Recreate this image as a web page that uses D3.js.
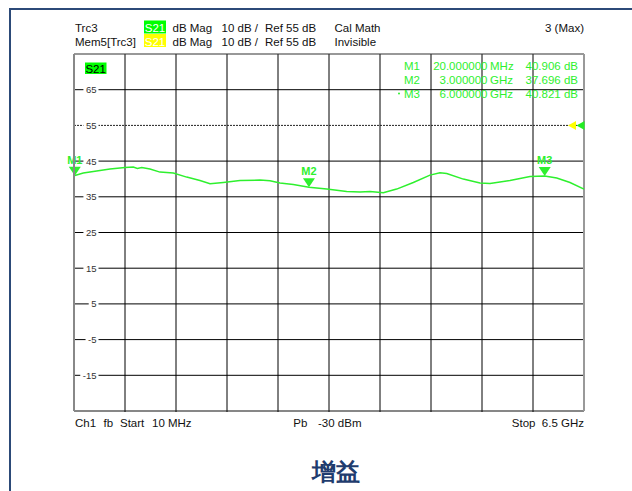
<!DOCTYPE html>
<html>
<head>
<meta charset="utf-8">
<script src="https://cdn.jsdelivr.net/npm/d3@7"></script>
<style>
  html, body { margin: 0; padding: 0; background: #fff; }
  svg { display: block; }
  text { font-family: "Liberation Sans", Arial, sans-serif; }
</style>
</head>
<body>
<svg id="chart" width="632" height="491"></svg>
<script>
// ---- data ----
const freqGHz = [0.01, 0.128, 0.256, 0.468, 0.659, 0.765, 0.816, 0.872, 0.977, 1.104, 1.274, 1.444, 1.613, 1.741, 1.910, 2.122, 2.377, 2.504, 2.631, 2.801, 3.0, 3.226, 3.480, 3.650, 3.777, 3.946, 4.116, 4.328, 4.540, 4.667, 4.753, 4.964, 5.176, 5.304, 5.558, 5.813, 6.0, 6.153, 6.322, 6.5];
const gainDb  = [40.906, 41.64, 42.09, 42.76, 43.21, 43.32, 42.93, 43.21, 42.76, 41.92, 41.64, 40.52, 39.57, 38.64, 39.01, 39.57, 39.68, 39.48, 38.84, 38.45, 37.696, 37.16, 36.48, 36.32, 36.48, 36.12, 37.16, 39.01, 41.08, 41.72, 41.53, 39.96, 38.84, 38.73, 39.57, 40.69, 40.821, 40.24, 39.01, 37.16];

const markerNames = ["M1", "M2", "M3"];
const markerFreqs = [0.02, 3.0, 6.0];
const markerGains = [40.906, 37.696, 40.821];
const markerFreqText = ["20.000000", "3.000000", "6.000000"];
const markerUnits = ["MHz", "GHz", "GHz"];
const markerValText = ["40.906 dB", "37.696 dB", "40.821 dB"];

const yTickValues = [65, 55, 45, 35, 25, 15, 5, -5, -15];
const yDomain = [-25, 75];
const xDomain = [0.01, 6.5];
const refLevel = 55;

const header1 = ["Trc3", "S21", "dB Mag", "10 dB /", "Ref 55 dB", "Cal Math", "3 (Max)"];
const header2 = ["Mem5[Trc3]", "S21", "dB Mag", "10 dB /", "Ref 55 dB", "Invisible"];
const footer = ["Ch1", "fb", "Start", "10 MHz", "Pb", "-30 dBm", "Stop", "6.5 GHz"];
const title = "增益";

// ---- layout ----
const L = 74, R = 584, T = 54, B = 411;
const green = "#2ef02e";
const svg = d3.select("#chart");

const x = d3.scaleLinear().domain(xDomain).range([L, R]);
const y = d3.scaleLinear().domain(yDomain).range([B, T]);

// outer frame
svg.append("rect").attr("x", 10).attr("y", 9).attr("width", 700).attr("height", 600)
  .attr("fill", "none").attr("stroke", "#2c4a78").attr("stroke-width", 2);

// header
const hFont = "11.5px";
svg.append("rect").attr("x", 144).attr("y", 20.5).attr("width", 22).attr("height", 13).attr("fill", "#00ff00");
svg.append("rect").attr("x", 144).attr("y", 34).attr("width", 22).attr("height", 13).attr("fill", "#ffff00");
const h1x = [75, null, 172.5, 221.5, 265, 334.5];
const g1 = svg.append("g").attr("font-size", hFont).attr("fill", "#111");
[[header1, 32], [header2, 45.5]].forEach(([row, by]) => {
  row.forEach((t, i) => {
    if (i === 1) {
      g1.append("text").attr("x", 155).attr("y", by).attr("text-anchor", "middle").attr("fill", "#fff").text(t);
    } else if (i === 6) {
      g1.append("text").attr("x", R).attr("y", by).attr("text-anchor", "end").text(t);
    } else {
      g1.append("text").attr("x", h1x[i]).attr("y", by).text(t);
    }
  });
});

// grid
const grid = svg.append("g");
const yGrid = d3.range(yDomain[0], yDomain[1] + 1, 10);
const xGrid = d3.range(0, 11).map(i => xDomain[0] + i * (xDomain[1] - xDomain[0]) / 10);
grid.selectAll("line.h").data(yGrid.filter(v => v !== refLevel && v !== yDomain[0] && v !== yDomain[1])).join("line")
  .attr("x1", L).attr("x2", R).attr("y1", d => y(d)).attr("y2", d => y(d))
  .attr("stroke", "#000").attr("stroke-width", 1);
grid.selectAll("line.v").data(xGrid.slice(1, -1)).join("line")
  .attr("x1", d => x(d)).attr("x2", d => x(d)).attr("y1", T).attr("y2", B + 1)
  .attr("stroke", "#000").attr("stroke-width", 1);
// reference line (fine dotted)
grid.append("line").attr("x1", L).attr("x2", R).attr("y1", y(refLevel)).attr("y2", y(refLevel))
  .attr("stroke", "#222").attr("stroke-width", 1).attr("stroke-dasharray", "2,1");
// borders
grid.append("line").attr("x1", L).attr("x2", R).attr("y1", T).attr("y2", T).attr("stroke", "#333").attr("stroke-width", 1.2);
grid.append("line").attr("x1", L).attr("x2", R).attr("y1", B).attr("y2", B).attr("stroke", "#111").attr("stroke-width", 1.2);
grid.append("line").attr("x1", R).attr("x2", R).attr("y1", T).attr("y2", B).attr("stroke", "#999").attr("stroke-width", 2);

// y tick labels with white background
const tg = svg.append("g").attr("font-size", "9.5px").attr("fill", "#333");
yTickValues.forEach(v => {
  const t = tg.append("text").attr("x", 96.5).attr("y", y(v) + 3.4).attr("text-anchor", "end").text(v);
  const bb = t.node().getBBox();
  tg.insert("rect", "text").attr("x", bb.x - 2.5).attr("y", y(v) - 2).attr("width", bb.width + 4.5).attr("height", 4).attr("fill", "#fff");
});

// S21 label in plot
svg.append("rect").attr("x", 85).attr("y", 62.5).attr("width", 21.5).attr("height", 11.5).attr("fill", "#00ff00");
svg.append("text").attr("x", 95.7).attr("y", 72.5).attr("text-anchor", "middle").attr("font-size", "11.5px").attr("fill", "#000").text("S21");

// marker table
const mt = svg.append("g").attr("font-size", "11.5px").attr("fill", green);
markerNames.forEach((m, i) => {
  const by = 69.5 + i * 14;
  mt.append("text").attr("x", 404).attr("y", by).text(m);
  mt.append("text").attr("x", 487.5).attr("y", by).attr("text-anchor", "end").text(markerFreqText[i]);
  mt.append("text").attr("x", 490).attr("y", by).text(markerUnits[i]);
  mt.append("text").attr("x", 578).attr("y", by).attr("text-anchor", "end").text(markerValText[i]);
});
mt.append("circle").attr("cx", 399).attr("cy", 69.5 + 28 - 4).attr("r", 1).attr("fill", green);

// reference arrows
const ry = y(refLevel);
svg.append("path").attr("d", `M568,${ry} L576,${ry - 4.5} L576,${ry + 4.5} Z`).attr("fill", "#ffff00");
svg.append("path").attr("d", `M576.5,${ry} L584.5,${ry - 4.5} L584.5,${ry + 4.5} Z`).attr("fill", "#22ee22");

// trace
const line = d3.line().x(d => x(d[0])).y(d => y(d[1]));
svg.append("path").datum(freqGHz.map((f, i) => [f, gainDb[i]]))
  .attr("d", line).attr("fill", "none").attr("stroke", green).attr("stroke-width", 1.5);

// markers
const mg = svg.append("g");
markerNames.forEach((m, i) => {
  const mx = x(markerFreqs[i]), my = y(markerGains[i]);
  mg.append("path").attr("d", `M${mx},${my} L${mx - 6},${my - 9} L${mx + 6},${my - 9} Z`).attr("fill", green);
  mg.append("text").attr("x", mx).attr("y", my - 12).attr("text-anchor", "middle")
    .attr("font-size", "11px").attr("font-weight", "bold").attr("fill", green).text(m);
});

// left axis line (on top)
svg.append("line").attr("x1", L).attr("x2", L).attr("y1", T).attr("y2", B).attr("stroke", "#888").attr("stroke-width", 2);

// footer
const fx = [75, 103.5, 120, 152, 293.3, 318];
const fg = svg.append("g").attr("font-size", "11.5px").attr("fill", "#111");
footer.slice(0, 6).forEach((t, i) => fg.append("text").attr("x", fx[i]).attr("y", 427).text(t));
fg.append("text").attr("x", R).attr("y", 427).attr("text-anchor", "end").text(footer[6] + "  " + footer[7]).attr("xml:space", "preserve").style("white-space", "pre");

// title
svg.append("text").attr("x", 336).attr("y", 480).attr("text-anchor", "middle")
  .attr("font-family", "'Noto Sans CJK SC', sans-serif").attr("font-size", "24px").attr("font-weight", "bold")
  .attr("fill", "#1f3c6e").text(title);
</script>
</body>
</html>
